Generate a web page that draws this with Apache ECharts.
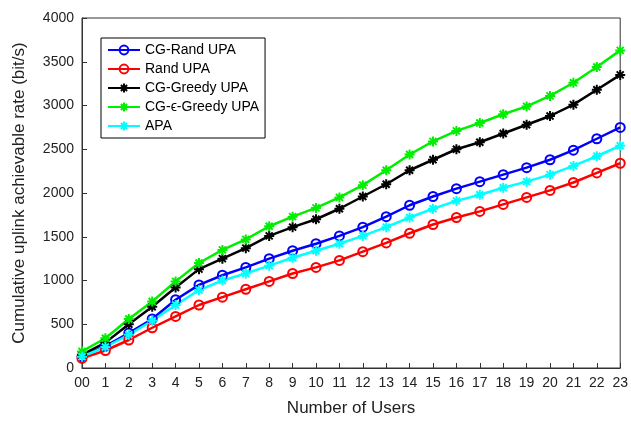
<!DOCTYPE html><html><head><meta charset="utf-8"><script src="https://cdn.jsdelivr.net/npm/echarts@6/dist/echarts.min.js"></script></head><body style="margin:0"><div id="c" style="width:631px;height:436px"></div><script>
const categories=['00','1','2','3','4','5','6','7','8','9','10','11','12','13','14','15','16','17','18','19','20','21','22','23'];
const cgRand=[130,250,400,560,780,950,1060,1150,1250,1340,1420,1510,1610,1730,1860,1960,2050,2130,2210,2290,2380,2490,2620,2750];
const rand=[110,200,320,460,590,720,810,900,990,1080,1150,1230,1330,1430,1540,1640,1720,1790,1870,1950,2030,2120,2230,2340];
const cgGreedy=[150,290,500,700,920,1130,1250,1370,1510,1610,1700,1820,1960,2100,2260,2380,2500,2580,2680,2780,2880,3010,3180,3350];
const cgEps=[190,340,560,760,990,1200,1350,1470,1620,1730,1830,1950,2090,2260,2440,2590,2710,2800,2900,2990,3110,3260,3440,3630];
const apa=[130,240,380,540,720,890,1000,1080,1170,1260,1340,1420,1510,1610,1720,1820,1910,1980,2060,2130,2210,2310,2420,2540];
const star='path://M5,0L5,10M0,5L10,5M1.5,1.5L8.5,8.5M8.5,1.5L1.5,8.5';
function s(name,data,color,circ){return {name,type:'line',data,symbol:circ?'circle':star,symbolSize:circ?9:10,showSymbol:true,
 lineStyle:{color,width:2.5,type:'solid'},itemStyle:{color:circ?'rgba(255,255,255,0)':color,borderColor:color,borderWidth:2}};}
const ch=echarts.init(document.getElementById('c'));
ch.setOption({animation:false,textStyle:{fontFamily:'Liberation Sans'},
grid:{left:82,right:6,top:18,bottom:68,show:true,borderColor:'#333',borderWidth:1},
legend:{orient:'vertical',left:101,top:38,itemGap:5,itemWidth:32,itemHeight:11,backgroundColor:'#fff',borderColor:'#000',borderWidth:1,padding:[5,6],
 textStyle:{fontSize:14,color:'#000'},data:['CG-Rand UPA','Rand UPA','CG-Greedy UPA','CG-ϵ-Greedy UPA','APA']},
xAxis:{type:'category',data:categories,boundaryGap:false,name:'Number of Users',nameLocation:'middle',nameGap:32,nameTextStyle:{fontSize:17,color:'#222'},
 axisLine:{lineStyle:{color:'#333'}},axisTick:{inside:true,alignWithLabel:true},axisLabel:{color:'#222',fontSize:14,interval:0}},
yAxis:{type:'value',min:0,max:4000,interval:500,name:'Cumulative uplink achievable rate (bit/s)',nameLocation:'middle',nameGap:54,nameTextStyle:{fontSize:17,color:'#222'},
 axisLine:{show:true,lineStyle:{color:'#333'}},axisTick:{show:true,inside:true},splitLine:{show:false},axisLabel:{color:'#222',fontSize:14,formatter:v=>String(v)}},
series:[s('CG-Rand UPA',cgRand,'#0000ff',true),s('Rand UPA',rand,'#ff0000',true),s('CG-Greedy UPA',cgGreedy,'#000000',false),s('CG-ϵ-Greedy UPA',cgEps,'#00ee00',false),s('APA',apa,'#00ffff',false)]});
</script></body></html>
